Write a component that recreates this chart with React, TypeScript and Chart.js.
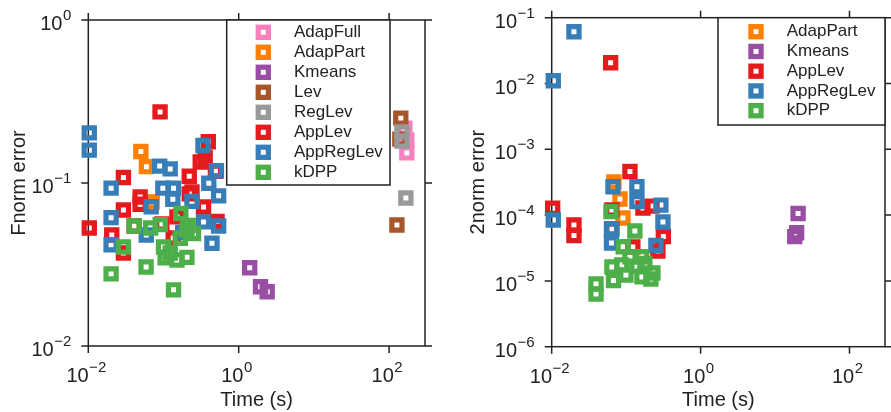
import React, { useEffect, useRef } from "react";
import { Chart, registerables } from "chart.js";

Chart.register(...registerables);

const FONT = '"Liberation Sans", Arial, Helvetica, sans-serif';
const INK = "#222222";

// ---- series names & colours ----
const NAMES_LEFT = ["AdapFull", "AdapPart", "Kmeans", "Lev", "RegLev", "AppLev", "AppRegLev", "kDPP"];
const NAMES_RIGHT = ["AdapPart", "Kmeans", "AppLev", "AppRegLev", "kDPP"];
const COLORS: Record<string, string> = {
  AdapFull: "#f781bf",
  AdapPart: "#ff7f00",
  Kmeans: "#984ea3",
  Lev: "#a65628",
  RegLev: "#999999",
  AppLev: "#e41a1c",
  AppRegLev: "#377eb8",
  kDPP: "#4daf4a",
};

// ---- tick values ----
const X_TICKS = [1e-2, 1e0, 1e2];
const LEFT_Y_TICKS = [1e-2, 1e-1, 1e0];
const RIGHT_Y_TICKS = [1e-6, 1e-5, 1e-4, 1e-3, 1e-2, 1e-1];

// ---- left panel: [time (s), Fnorm error] ----
const leftAdapFull: [number, number][] = [[162, 0.217], [172, 0.184], [172, 0.153]];
const leftAdapPart: [number, number][] = [[0.05, 0.156], [0.0593, 0.126], [0.0706, 0.0764]];
const leftKmeans: [number, number][] = [[1.4, 0.0302], [1.95, 0.0231], [2.39, 0.0215]];
const leftLev: [number, number][] = [[143, 0.25], [139, 0.186], [127, 0.0552]];
const leftRegLev: [number, number][] = [[148, 0.2056], [148, 0.181], [167, 0.0809]];
const leftAppLev: [number, number][] = [
  [0.09, 0.273], [0.0103, 0.053], [0.0293, 0.108], [0.0293, 0.0683], [0.0205, 0.048],
  [0.0293, 0.0372], [0.0489, 0.082], [0.0489, 0.074], [0.22, 0.11], [0.22, 0.0857],
  [0.308, 0.1346], [0.394, 0.179], [0.49, 0.118], [0.515, 0.058], [0.34, 0.0713],
  [0.151, 0.062], [0.1345, 0.046], [0.239, 0.088], [0.358, 0.143], [0.0407, 0.0545],
  [0.095, 0.056],
];
const leftAppRegLev: [number, number][] = [
  [0.0103, 0.203], [0.0103, 0.159], [0.0201, 0.093], [0.0201, 0.0613], [0.0201, 0.0418],
  [0.089, 0.127], [0.1228, 0.122], [0.098, 0.093], [0.136, 0.093], [0.133, 0.0795],
  [0.0685, 0.0715], [0.335, 0.17], [0.505, 0.119], [0.4, 0.0996], [0.541, 0.0834],
  [0.239, 0.0772], [0.34, 0.0577], [0.541, 0.0545], [0.441, 0.0427], [0.059, 0.048],
  [0.18, 0.0497],
];
const leftKDPP: [number, number][] = [
  [0.0407, 0.0545], [0.0674, 0.053], [0.0903, 0.0555], [0.17, 0.065], [0.0293, 0.0405],
  [0.1, 0.0405], [0.167, 0.0458], [0.205, 0.0515], [0.251, 0.049], [0.1228, 0.0372],
  [0.151, 0.0337], [0.205, 0.035], [0.0587, 0.0305], [0.0201, 0.0277], [0.136, 0.0221],
  [0.105, 0.0347], [0.213, 0.055],
];

// ---- right panel: [time (s), 2norm error] ----
const rightAdapPart: [number, number][] = [[0.0685, 3.18e-4], [0.0826, 1.76e-4], [0.0906, 9.03e-5]];
const rightKmeans: [number, number][] = [[20.4, 1.06e-4], [19.5, 5.4e-5], [18.4, 4.7e-5]];
const rightAppLev: [number, number][] = [
  [0.0619, 0.0207], [0.0103, 1.27e-4], [0.0199, 7.08e-5], [0.0199, 4.9e-5], [0.1125, 4.6e-4],
  [0.168, 1.28e-4], [0.222, 1.37e-4], [0.316, 4.73e-5], [0.267, 2.85e-5], [0.123, 3.27e-5],
  [0.0644, 1.2e-4], [0.0644, 6.15e-5],
];
const rightAppRegLev: [number, number][] = [
  [0.0199, 0.0612], [0.0105, 0.01103], [0.0105, 8.43e-5], [0.0665, 2.7e-4], [0.1396, 2.7e-4],
  [0.1396, 1.6e-4], [0.293, 1.42e-4], [0.312, 7.85e-5], [0.251, 3.45e-5], [0.0635, 6.15e-5],
  [0.0635, 3.77e-5],
];
const rightKDPP: [number, number][] = [
  [0.0625, 1.13e-4], [0.131, 5.73e-5], [0.0914, 3.31e-5], [0.0644, 1.63e-5], [0.0676, 1.01e-5],
  [0.0394, 8.97e-6], [0.0394, 6.32e-6], [0.0993, 1.23e-5], [0.0871, 1.75e-5], [0.1125, 2.33e-5],
  [0.1396, 1.68e-5], [0.1786, 1.85e-5], [0.1614, 2.33e-5], [0.163, 1.15e-5], [0.215, 1.07e-5],
  [0.229, 1.32e-5],
];

const LEFT_SERIES = [leftAdapFull, leftAdapPart, leftKmeans, leftLev, leftRegLev, leftAppLev, leftAppRegLev, leftKDPP];
const RIGHT_SERIES = [rightAdapPart, rightKmeans, rightAppLev, rightAppRegLev, rightKDPP];

// marker geometry
const MARKER_R = 7.2;
const MARKER_BW = 5.2;
const MARKER_SIDE = Math.SQRT2 * MARKER_R;

function drawPow(ctx: CanvasRenderingContext2D, v: number, x: number, baseline: number, align: "center" | "right") {
  const exp = Math.round(Math.log10(v));
  const base = "10";
  const sup = String(exp).replace("-", "\u2212");
  ctx.font = `20px ${FONT}`;
  const wb = ctx.measureText(base).width;
  ctx.font = `15px ${FONT}`;
  const ws = ctx.measureText(sup).width;
  const gap = 0.5;
  const total = wb + gap + ws;
  const x0 = align === "center" ? x - total / 2 - 2 : x - total;
  ctx.textAlign = "left";
  ctx.textBaseline = "alphabetic";
  ctx.font = `20px ${FONT}`;
  ctx.fillText(base, x0, baseline);
  ctx.font = `15px ${FONT}`;
  ctx.fillText(sup, x0 + wb + gap, baseline - 10);
}

const framePlugin = {
  id: "frame",
  beforeDatasetsDraw(chart: any, _args: any, o: any) {
    const { ctx, chartArea: a, scales } = chart;
    const xs = scales.x;
    const ys = scales.y;
    const T = 7;
    ctx.save();
    ctx.strokeStyle = INK;
    ctx.lineWidth = 1.5;
    ctx.strokeRect(a.left, a.top, a.right - a.left, a.bottom - a.top);
    ctx.beginPath();
    for (const v of o.xTicks) {
      const px = xs.getPixelForValue(v);
      ctx.moveTo(px, a.bottom);
      ctx.lineTo(px, a.bottom + T);
      ctx.moveTo(px, a.top);
      ctx.lineTo(px, a.top - T);
    }
    for (const v of o.yTicks) {
      const py = ys.getPixelForValue(v);
      ctx.moveTo(a.left, py);
      ctx.lineTo(a.left - T, py);
      ctx.moveTo(a.right, py);
      ctx.lineTo(a.right + T, py);
    }
    ctx.stroke();
    ctx.fillStyle = INK;
    for (const v of o.xTicks) {
      drawPow(ctx, v, xs.getPixelForValue(v), a.bottom + 36, "center");
    }
    for (const v of o.yTicks) {
      drawPow(ctx, v, a.left - 17, ys.getPixelForValue(v) + 10, "right");
    }
    ctx.restore();
  },
};

const boxLegendPlugin = {
  id: "boxLegend",
  afterDatasetsDraw(chart: any, _args: any, o: any) {
    const { ctx, chartArea: a } = chart;
    const right = a.right - o.rightInset;
    const left = right - o.width;
    const top = a.top;
    ctx.save();
    ctx.fillStyle = "#ffffff";
    ctx.fillRect(left, top, o.width, o.height);
    ctx.strokeStyle = INK;
    ctx.lineWidth = 1.5;
    ctx.strokeRect(left, top, o.width, o.height);
    chart.data.datasets.forEach((ds: any, i: number) => {
      const cy = top + o.firstRow + i * o.rowH;
      const cx = left + o.markerX;
      ctx.strokeStyle = ds.borderColor;
      ctx.lineWidth = MARKER_BW;
      ctx.strokeRect(cx - MARKER_SIDE / 2, cy - MARKER_SIDE / 2, MARKER_SIDE, MARKER_SIDE);
      ctx.fillStyle = INK;
      ctx.font = `17px ${FONT}`;
      ctx.textBaseline = "middle";
      ctx.textAlign = "left";
      ctx.fillText(ds.label, left + o.textX, cy);
    });
    ctx.restore();
  },
};

type PanelProps = {
  names: string[];
  series: [number, number][][];
  yMin: number;
  yMax: number;
  yTicks: number[];
  yTitle: string;
  yTitlePad: number;
  yAxisW: number;
  xAxisH: number;
  padTop: number;
  padRight: number;
  legend: any;
  left: number;
  width: number;
};

function Panel(p: PanelProps) {
  const ref = useRef<HTMLCanvasElement>(null);
  useEffect(() => {
    if (!ref.current) return;
    const n = p.names.length;
    const chart = new Chart(ref.current, {
      type: "scatter",
      data: {
        datasets: p.names.map((name, i) => ({
          label: name,
          data: p.series[i].map(([x, y]) => ({ x, y })),
          borderColor: COLORS[name],
          backgroundColor: "rgba(0,0,0,0)",
          pointStyle: "rect",
          pointRadius: MARKER_R,
          pointHoverRadius: MARKER_R,
          borderWidth: MARKER_BW,
          pointBorderWidth: MARKER_BW,
          clip: false,
          order: n - i,
        })),
      } as any,
      options: {
        animation: false,
        responsive: true,
        maintainAspectRatio: false,
        events: [],
        layout: { autoPadding: false, padding: { left: 0, right: p.padRight, top: p.padTop, bottom: 0 } },
        plugins: {
          legend: { display: false },
          tooltip: { enabled: false },
          frame: { xTicks: X_TICKS, yTicks: p.yTicks },
          boxLegend: p.legend,
        } as any,
        scales: {
          x: {
            type: "logarithmic",
            min: 0.01,
            max: 300,
            ticks: { display: false },
            grid: { display: false },
            border: { display: false },
            title: {
              display: true,
              text: "Time (s)",
              color: INK,
              font: { family: FONT, size: 20 },
              padding: { top: 0, bottom: 0 },
            },
            afterFit: (s: any) => {
              s.height = p.xAxisH;
            },
          },
          y: {
            type: "logarithmic",
            min: p.yMin,
            max: p.yMax,
            ticks: { display: false },
            grid: { display: false },
            border: { display: false },
            title: {
              display: true,
              text: p.yTitle,
              color: INK,
              font: { family: FONT, size: 20 },
              padding: { top: p.yTitlePad, bottom: 0 },
            },
            afterFit: (s: any) => {
              s.width = p.yAxisW;
            },
          },
        } as any,
      },
      plugins: [framePlugin, boxLegendPlugin],
    });
    return () => chart.destroy();
  }, []);
  return (
    <div style={{ position: "absolute", left: p.left, top: 0, width: p.width, height: 412 }}>
      <canvas ref={ref} />
    </div>
  );
}

export default function App() {
  return (
    <div style={{ position: "absolute", left: 0, top: 0, width: 891, height: 412, background: "#ffffff" }}>
      <Panel
        names={NAMES_LEFT}
        series={LEFT_SERIES}
        yMin={0.01}
        yMax={1}
        yTicks={LEFT_Y_TICKS}
        yTitle="Fnorm error"
        yTitlePad={7}
        yAxisW={88.3}
        xAxisH={66}
        padTop={20}
        padRight={20}
        legend={{ rightInset: 35, width: 163.3, height: 165, firstRow: 12.3, rowH: 20, markerX: 36.6, textX: 67.3 }}
        left={0}
        width={445}
      />
      <Panel
        names={NAMES_RIGHT}
        series={RIGHT_SERIES}
        yMin={1e-6}
        yMax={1e-1}
        yTicks={RIGHT_Y_TICKS}
        yTitle="2norm error"
        yTitlePad={21}
        yAxisW={106.7}
        xAxisH={65.3}
        padTop={17.7}
        padRight={6}
        legend={{ rightInset: 0, width: 167, height: 107.3, firstRow: 14, rowH: 19.75, markerX: 38, textX: 68.7 }}
        left={445}
        width={446}
      />
    </div>
  );
}
